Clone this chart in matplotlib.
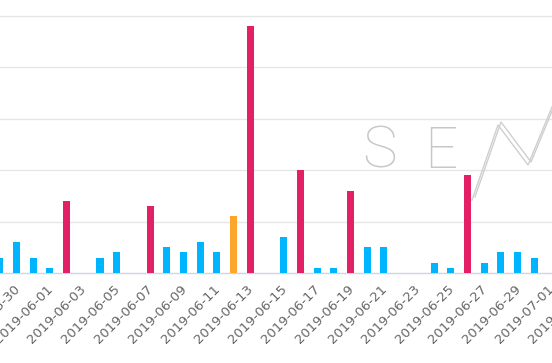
import numpy as np
import pandas as pd
import matplotlib
matplotlib.use("Agg")
from matplotlib import pyplot as plt
from matplotlib.lines import Line2D
from matplotlib.transforms import ScaledTranslation

# daily counts, 2019-05-29 .. 2019-07-03
start_date = "2019-05-29"
counts = [3, 6, 3, 1, 14, 0, 3, 4, 0, 13, 5, 4, 6, 4, 11, 48, 0, 7,
          20, 1, 1, 16, 5, 5, 0, 0, 2, 1, 19, 2, 4, 4, 3, 0, 0, 0]
# colour group of each bar: b = normal, o = warning, r = alert
groups = ["b", "b", "b", "b", "r", "b", "b", "b", "b", "r", "b", "b", "b", "b", "o", "r", "b", "b",
          "r", "b", "b", "r", "b", "b", "b", "b", "b", "b", "r", "b", "b", "b", "b", "b", "b", "b"]
palette = {"b": "#00b5ff", "o": "#fca62b", "r": "#e31f66"}

dates = pd.date_range(start_date, periods=len(counts)).strftime("%Y-%m-%d")
x = np.arange(len(counts))

fig = plt.figure(figsize=(5.52, 3.63), dpi=100)
ax = fig.add_axes([0, 90 / 363, 1, 273 / 363])

ax.bar(x, counts, width=0.42, color=[palette[g] for g in groups], zorder=3)

ax.set_yticks([10, 20, 30, 40, 50])
ax.yaxis.grid(True, color="#e6e6e6", lw=1, zorder=0)
ax.tick_params(axis="y", length=0, labelleft=False)

for s in ["top", "right", "left"]:
    ax.spines[s].set_visible(False)
ax.spines["bottom"].set_color("#ccd6eb")
ax.spines["bottom"].set_linewidth(1)
ax.set_xticks([])

ax.set_xlim(0.012, 33.065)
ax.set_ylim(0, 53.1)

# date labels every second day, drawn as text so the one past the edge still shows
lab_tr = ax.get_xaxis_transform() + ScaledTranslation(0.01, -0.14, fig.dpi_scale_trans)
for i in x[1::2]:
    ax.text(i, 0, dates[i], transform=lab_tr, rotation=45, rotation_mode="anchor",
            ha="right", va="center", fontsize=9.5, color="#666666", clip_on=False)

# faint watermark logo
wm = dict(color="#c8c8c8", fontsize=42, family=["Roboto", "DejaVu Sans"],
          fontweight=200, va="baseline", ha="left")
fig.text(362 / 552, 1 - 168 / 363, "S", **wm)
fig.text(424 / 552, 1 - 168 / 363, "E", **wm)
for dx, dy in [(0, 0), (3, -3)]:
    px = np.array([472, 498, 528, 552]) + dx
    py = np.array([200, 125, 165, 107]) + dy
    fig.add_artist(Line2D(px / 552, 1 - py / 363, color="#cfcfcf", lw=1,
                          transform=fig.transFigure))

fig.savefig("out.png", dpi=100)
